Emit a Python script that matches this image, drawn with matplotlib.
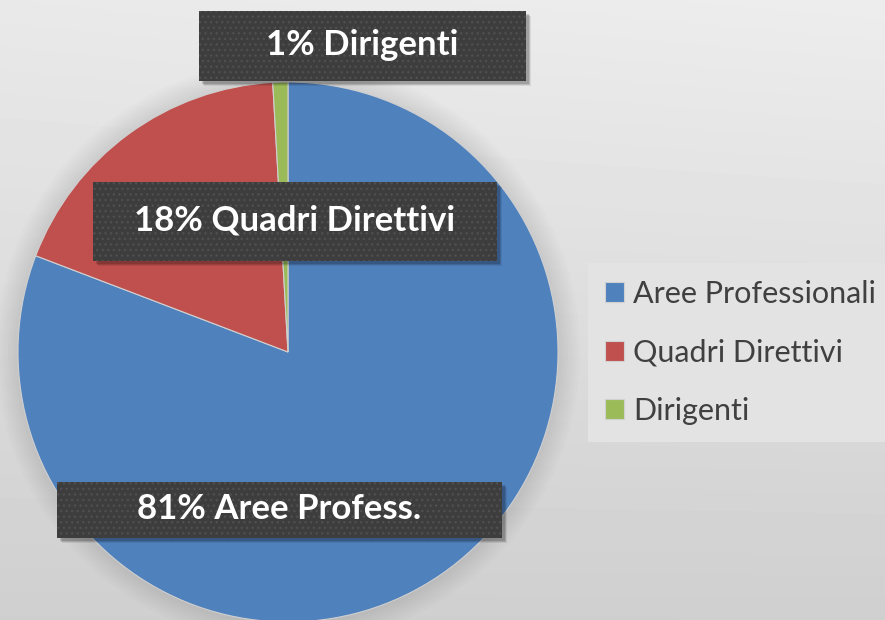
import numpy as np
import matplotlib
matplotlib.use("Agg")
import matplotlib.pyplot as plt
from matplotlib.patches import Rectangle, Circle

# data
CATEGORIES = ["Aree Professionali", "Quadri Direttivi", "Dirigenti"]
SHORT_LABELS = ["Aree Profess.", "Quadri Direttivi", "Dirigenti"]
SHARES = [80.8, 18.3, 0.9]
COLORS = ["#4f81bd", "#c0504d", "#9bbb59"]

# layout (pixels, origin top-left)
W, H = 885, 620
PIE_CENTER = (288, 352)
PIE_RADIUS = 270
LABEL_BOXES = [(57, 482, 502, 538), (93, 182, 497, 261), (199, 11, 526, 81)]

FONT = ["Lato", "DejaVu Sans"]


def main() -> int:
    fig = plt.figure(figsize=(W / 100, H / 100), dpi=100)
    ax = fig.add_axes([0, 0, 1, 1])

    # background gradient
    yy, xx = np.mgrid[0:H, 0:W]
    grad = 233 - 26 * (yy / H) + 4 * (xx / W) * (1 - yy / H)
    ax.imshow(grad, extent=(0, W, 0, H), origin="upper", cmap="gray",
              vmin=0, vmax=255, aspect="auto", zorder=0)

    cx, cy = PIE_CENTER[0], H - PIE_CENTER[1]

    # soft shadow around the pie
    for i in range(8):
        ax.add_patch(Circle((cx, cy), PIE_RADIUS + 1 + i * 3, facecolor="black",
                            alpha=0.01, lw=0, zorder=1))

    wedges, _ = ax.pie(SHARES, colors=COLORS, startangle=90, counterclock=False,
                       center=(cx, cy), radius=PIE_RADIUS,
                       wedgeprops=dict(edgecolor="#d0d0d0", linewidth=0.8))
    for w in wedges:
        w.set_zorder(2)

    # data label boxes
    for (x0, y0, x1, y1), share, name in zip(LABEL_BOXES, SHARES, SHORT_LABELS):
        bw, bh = x1 - x0, y1 - y0
        for k, a in ((5, 0.08), (4, 0.12), (3, 0.15)):
            ax.add_patch(Rectangle((x0 + k, H - y1 - k), bw, bh, facecolor="black",
                                   alpha=a, lw=0, zorder=3))
        ax.add_patch(Rectangle((x0, H - y1), bw, bh, facecolor="#3d3d3d",
                               edgecolor="#4f4f4f", hatch="...", lw=0, zorder=4))
        ax.text((x0 + x1) / 2, H - (y0 + y1) / 2 + 1, f"{round(share)}% {name}",
                ha="center", va="center", color="white", fontsize=25,
                fontweight="bold", family=FONT, zorder=5)

    leg = ax.legend(wedges, CATEGORIES, loc="upper left",
                    bbox_to_anchor=(588 / W, (H - 263) / H), borderaxespad=0,
                    frameon=True, facecolor="#e3e3e3", edgecolor="none",
                    fancybox=False, framealpha=1,
                    prop=dict(family=FONT, size=22),
                    handlelength=0.62, handleheight=0.62, handletextpad=0.3,
                    labelspacing=1.0, borderpad=0.55)
    for t in leg.get_texts():
        t.set_color("#404040")

    ax.set_xlim(0, W)
    ax.set_ylim(0, H)
    ax.set_aspect("auto")
    ax.axis("off")
    fig.savefig("out.png", dpi=100)
    return 0


if __name__ == "__main__":
    raise SystemExit(main())
